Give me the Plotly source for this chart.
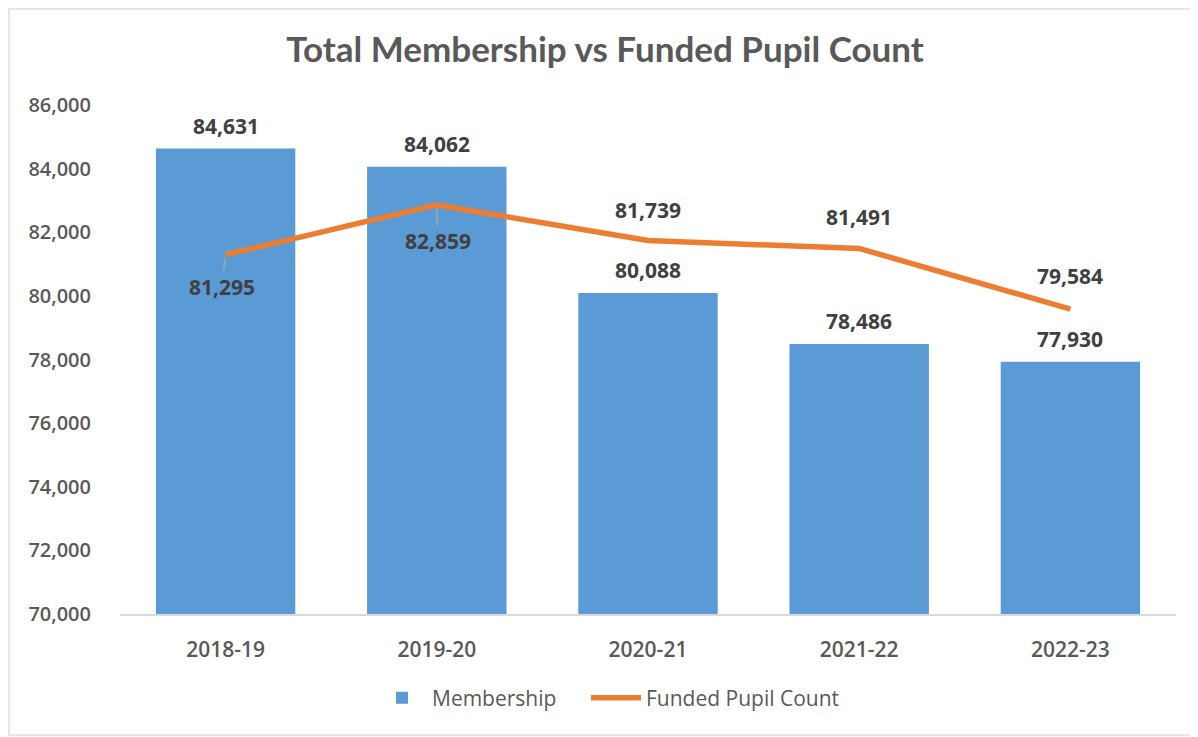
import plotly.graph_objects as go

categories = ["2018-19", "2019-20", "2020-21", "2021-22", "2022-23"]
membership = [84631, 84062, 80088, 78486, 77930]
funded = [81295, 82859, 81739, 81491, 79584]
y_ticks = [70000, 72000, 74000, 76000, 78000, 80000, 82000, 84000, 86000]

BLUE = "#5B9BD5"
ORANGE = "#ED7D31"
TXT = "#595959"
LBL = "#404040"
FONT = "Open Sans"

# page body has an 8px margin, so the figure is drawn 8px in from the top-left
W, H = 1190, 729
OFF = 8
PL, PR = 120 - OFF, 1176 - OFF
PT, PB = 105 - OFF, 614 - OFF

fig = go.Figure()
fig.add_trace(go.Bar(x=categories, y=membership, name="Membership", legend="legend",
                     showlegend=True, marker=dict(color=BLUE, line=dict(width=0))))
fig.add_trace(go.Scatter(x=categories, y=funded, name="Funded Pupil Count", legend="legend2",
                         showlegend=True, mode="lines", line=dict(color=ORANGE, width=5.5)))

lblfont = dict(family=FONT, size=21, color=LBL, weight="bold")
ann = []
for c, v in zip(categories, membership):
    ann.append(dict(x=c, y=v, text=f"{v:,}", showarrow=False, yshift=23, font=lblfont))
line_offsets = [(-4, 32, True), (1, 36, True), (0, -31, False), (0, -31, False), (0, -33, False)]
for c, v, (ax, ay, arrow) in zip(categories, funded, line_offsets):
    if arrow:
        ann.append(dict(x=c, y=v, text=f"{v:,}", showarrow=True, arrowhead=0,
                        arrowcolor="#A6A6A6", arrowwidth=1.5, ax=ax, ay=ay, standoff=4,
                        font=lblfont))
    else:
        ann.append(dict(x=c, y=v, text=f"{v:,}", showarrow=False, yshift=-ay, font=lblfont))

ph = PB - PT
pw = PR - PL
leg_common = dict(orientation="h", xanchor="left", y=-(698 - 614) / ph, yanchor="middle",
                  itemwidth=50, font=dict(family=FONT, size=21, color=TXT))
fig.update_layout(
    width=W, height=H,
    showlegend=True,
    paper_bgcolor="white", plot_bgcolor="white",
    margin=dict(l=PL, r=W - PR, t=PT, b=H - PB),
    bargap=0.34,
    title=dict(text="Total Membership vs Funded Pupil Count", x=(605 - OFF) / W, xanchor="center",
               y=1 - (50 - OFF) / H, yanchor="middle",
               font=dict(family="Lato", size=35, color=TXT, weight="bold")),
    xaxis=dict(showgrid=False, showline=True, linecolor="#D9D9D9", linewidth=1.5,
               ticks="", ticklabelstandoff=16,
               tickfont=dict(family=FONT, size=21, color=TXT, weight=600)),
    yaxis=dict(range=[70000, 86000], tickvals=y_ticks, tickformat=",", showgrid=False,
               zeroline=False, showline=False, ticks="", ticklabelstandoff=28,
               tickfont=dict(family=FONT, size=20, color=TXT, weight=600)),
    legend=dict(x=(372 - 120) / pw, **leg_common),
    legend2=dict(x=(586 - 120) / pw, **leg_common),
    annotations=ann,
    shapes=[dict(type="rect", xref="paper", yref="paper",
                 x0=(9 - 120) / pw, x1=(1196 - 120) / pw,
                 y0=(614 - 735) / ph, y1=(614 - 9) / ph,
                 line=dict(color="#E0E0E0", width=1.5), layer="below")],
)

fig.write_html("out.html")
